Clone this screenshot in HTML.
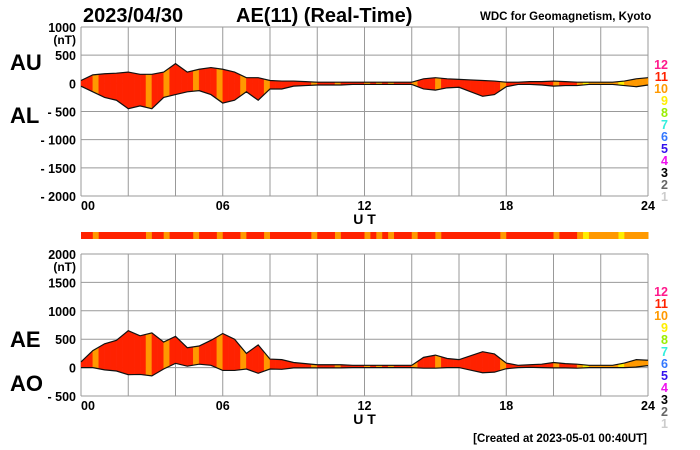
<!DOCTYPE html>
<html><head><meta charset="utf-8"><style>
body{margin:0;background:#fff;}
svg{display:block;font-family:"Liberation Sans",sans-serif;}
</style></head><body>
<svg id="c" width="700" height="450" viewBox="0 0 700 450">
<text x="83" y="22" font-size="20" font-weight="bold">2023/04/30</text>
<text x="236" y="22" font-size="20" font-weight="bold">AE(11) (Real-Time)</text>
<text x="480" y="20" font-size="11.5" font-weight="bold">WDC for Geomagnetism, Kyoto</text>
<text x="10" y="70" font-size="22" font-weight="bold">AU</text>
<text x="10" y="123" font-size="22" font-weight="bold">AL</text>
<text x="10" y="347" font-size="22" font-weight="bold">AE</text>
<text x="10" y="391" font-size="22" font-weight="bold">AO</text>
<text x="647" y="442" font-size="11.5" font-weight="bold" text-anchor="end">[Created at 2023-05-01 00:40UT]</text>
<g id="g"></g>
</svg>
<script>
const hours=[0,0.5,1,1.5,2,2.5,3,3.5,4,4.5,5,5.5,6,6.5,7,7.5,8,8.5,9,9.5,10,10.5,11,11.5,12,12.5,13,13.5,14,14.5,15,15.5,16,16.5,17,17.5,18,18.5,19,19.5,20,20.5,21,21.5,22,22.5,23,23.5,24];
const au=[50,150,170,180,200,160,160,200,350,200,250,280,250,200,100,100,50,40,40,30,20,20,20,20,20,20,20,20,20,80,100,80,70,60,50,40,20,20,30,30,40,30,20,20,20,20,40,80,100];
const al=[-50,-150,-250,-300,-450,-400,-450,-250,-200,-150,-130,-200,-350,-300,-150,-300,-100,-100,-50,-40,-30,-30,-30,-20,-20,-20,-20,-20,-20,-100,-120,-80,-70,-150,-230,-200,-60,-20,-20,-30,-50,-40,-40,-20,-20,-20,-40,-60,-30];
const stations=[11,11,10,11,11,11,11,11,11,11,11,10,11,11,10,11,11,11,11,10,11,11,11,10,
11,11,11,10,11,11,11,10,11,11,11,11,11,11,11,10,11,11,11,10,11,11,11,11,
10,11,10,11,10,11,11,11,10,11,11,11,10,11,11,11,11,11,11,11,11,11,11,10,
11,11,11,11,11,11,11,11,10,11,11,11,10,9,10,10,10,10,10,9,10,10,10,10];
const auTicks=[1000,500,0,-500,-1000,-1500,-2000];
const aeTicks=[2000,1500,1000,500,0,-500];
const xTicks=[0,6,12,18,24];
const xLabels=["00","06","12","18","24"];
const legendNums=[12,11,10,9,8,7,6,5,4,3,2,1];
const legendCols=["#ff1a8c","#ff2200","#ff9900","#ffee00","#99ee00","#33eedd","#3377ff","#3311ee","#ee11ee","#000000","#666666","#cccccc"];
const colorOf=n=>legendCols[12-n];
const stStep=24/stations.length;

const NS="http://www.w3.org/2000/svg",G=document.getElementById('g');
function el(t,a,p){const e=document.createElementNS(NS,t);for(const k in a)e.setAttribute(k,a[k]);(p||G).appendChild(e);return e;}
const X0=81,X1=648;const x=h=>X0+(X1-X0)*h/24;
function interp(arr,h){
  for(let i=0;i<hours.length-1;i++){if(h<=hours[i+1]){const f=(h-hours[i])/(hours[i+1]-hours[i]);return arr[i]+(arr[i+1]-arr[i])*f;}}
  return arr[arr.length-1];
}

function panel(top,bot,vmax,vmin,ticks,upper,lower,name){
  const y=v=>top+(vmax-v)/(vmax-vmin)*(bot-top);
  const g=el('g',{});
  
  
  for(let h=0;h<=24;h+=2){el('line',{x1:x(h),x2:x(h),y1:top,y2:bot,stroke:'#999','stroke-width':1},g);}
  ticks.forEach(v=>{el('line',{x1:X0,x2:X1,y1:y(v),y2:y(v),stroke:'#999','stroke-width':1},g);
    const t=el('text',{x:76,y:y(v)+5,'font-size':12.5,'font-weight':'bold','text-anchor':'end'},g);
    t.textContent=(v<0?'- '+(-v):v);
    
    });
  el('text',{x:76,y:y(ticks[0])+17,'font-size':12,'font-weight':'bold','text-anchor':'end'},g).textContent='(nT)';
  for(let i=0;i<stations.length;i++){
    const h0=i*stStep,h1=(i+1)*stStep;
    const p=`${x(h0)},${y(interp(upper,h0))} ${x(h1)},${y(interp(upper,h1))} ${x(h1)},${y(interp(lower,h1))} ${x(h0)},${y(interp(lower,h0))}`;
    const s=el('polygon',{points:p,fill:colorOf(stations[i]),stroke:colorOf(stations[i]),'stroke-width':0.4},g);
    
    
  }
  const pu=hours.map((h,i)=>x(h)+','+y(upper[i])).join(' ');
  const pl=hours.map((h,i)=>x(h)+','+y(lower[i])).join(' ');
  el('polyline',{points:pu,fill:'none',stroke:'#111','stroke-width':1.2},g);
  el('polyline',{points:pl,fill:'none',stroke:'#111','stroke-width':1.2},g);
  xTicks.forEach((h,i)=>{const t=el('text',{x:x(h)+(i==0?7:0),y:bot+14,'font-size':12.5,'font-weight':'bold','text-anchor':'middle'},g);t.textContent=xLabels[i];});
  const ut=el('text',{x:x(12),y:bot+28,'font-size':14,'font-weight':'bold','text-anchor':'middle'},g);ut.textContent='U T';
  
  
  legendNums.forEach((n,i)=>{const t=el('text',{x:668,y:top+42+i*12,'font-size':12.5,'font-weight':'bold','text-anchor':'end',fill:legendCols[i]},g);t.textContent=n;
    
    });
}
panel(27,196,1000,-2000,auTicks,au,al,'au-al');
const ae=au.map((v,i)=>v-al[i]), ao=au.map((v,i)=>(v+al[i])/2);
panel(254,396,2000,-500,aeTicks,ae,ao,'ae-ao');
for(let i=0;i<stations.length;i++){
  const r=el('rect',{x:x(i*stStep),y:232,width:x((i+1)*stStep)-x(i*stStep)+0.5,height:7,fill:colorOf(stations[i])});
  
  
}
</script>
</body></html>
